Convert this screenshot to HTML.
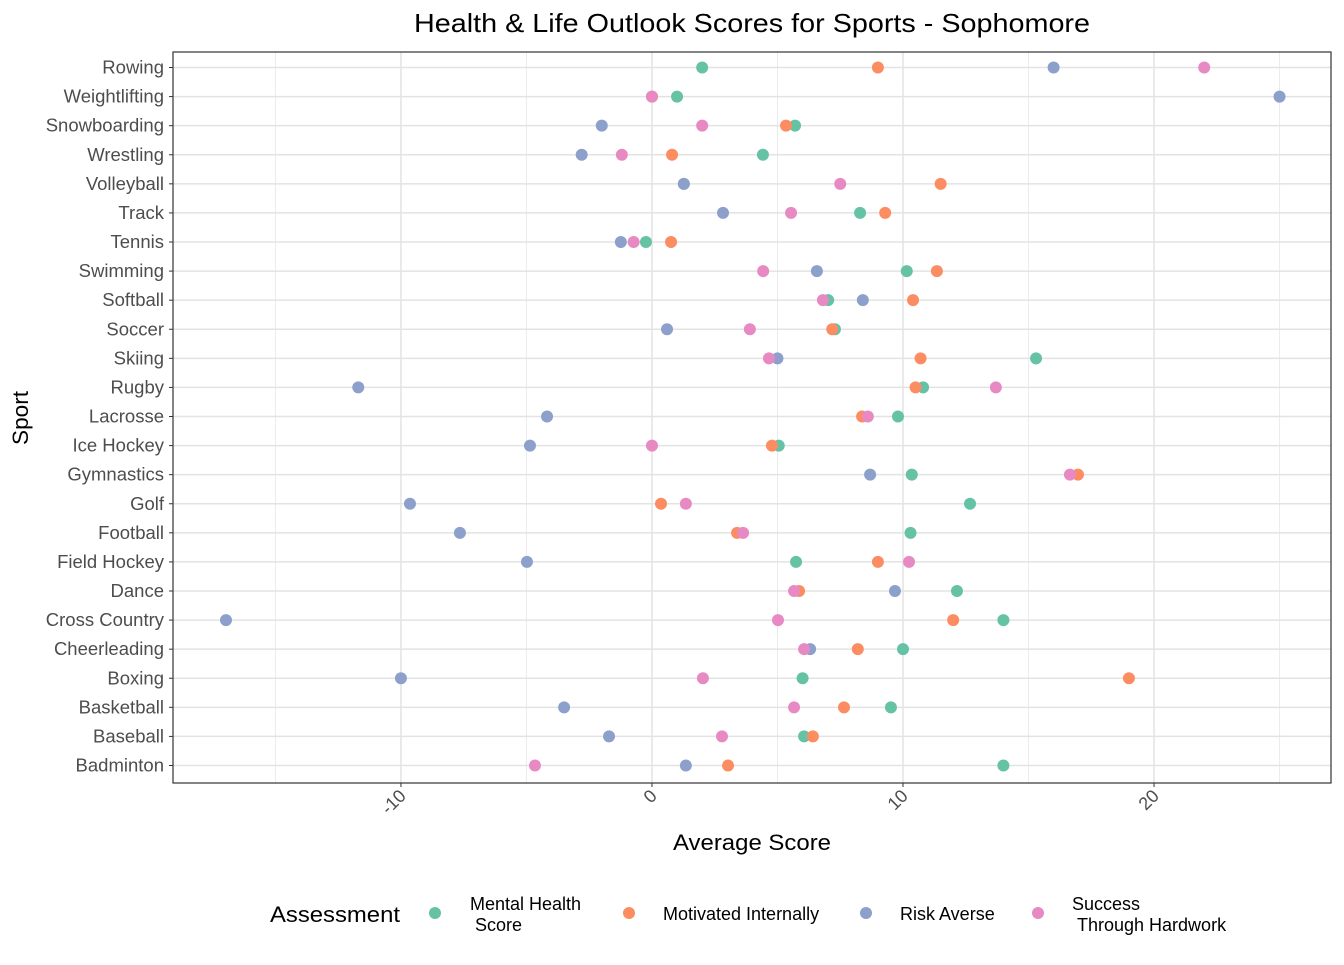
<!DOCTYPE html>
<html><head><meta charset="utf-8"><style>
body{margin:0;background:#fff;font-family:"Liberation Sans",Arial,sans-serif}
</style></head><body>
<svg id="chart" width="1344" height="960" xmlns="http://www.w3.org/2000/svg" font-family="Liberation Sans, Arial, sans-serif">
<text x="752" y="32" text-anchor="middle" font-size="26" fill="#000" textLength="676" lengthAdjust="spacingAndGlyphs">Health &amp; Life Outlook Scores for Sports - Sophomore</text>
<g id="plot"></g>
<text x="752" y="850" text-anchor="middle" font-size="22" textLength="158" lengthAdjust="spacingAndGlyphs">Average Score</text>
<text transform="translate(28,418) rotate(-90)" text-anchor="middle" font-size="22" textLength="54" lengthAdjust="spacingAndGlyphs">Sport</text>
<g>
<text x="270" y="922" font-size="22" textLength="130" lengthAdjust="spacingAndGlyphs">Assessment</text>
<circle cx="435" cy="913" r="6" fill="#66c2a5"/>
<text x="470" y="910" font-size="18">Mental Health</text><text x="475" y="931" font-size="18">Score</text>
<circle cx="629" cy="913" r="6" fill="#fc8d62"/>
<text x="663" y="920" font-size="18">Motivated Internally</text>
<circle cx="866" cy="913" r="6" fill="#8da0cb"/>
<text x="900" y="920" font-size="18">Risk Averse</text>
<circle cx="1038" cy="913" r="6" fill="#e78ac3"/>
<text x="1072" y="910" font-size="18">Success</text><text x="1077" y="931" font-size="18">Through Hardwork</text>
</g>
</svg>
<script>
const sports=["Rowing","Weightlifting","Snowboarding","Wrestling","Volleyball","Track","Tennis","Swimming","Softball","Soccer","Skiing","Rugby","Lacrosse","Ice Hockey","Gymnastics","Golf","Football","Field Hockey","Dance","Cross Country","Cheerleading","Boxing","Basketball","Baseball","Badminton"];
const mentalHealth=[2.0,1.0,5.7,4.42,1.27,8.29,-0.24,10.15,7.02,7.29,15.3,10.8,9.8,5.05,10.35,12.67,10.3,5.74,12.15,14.0,10.0,6.0,9.52,6.06,14.0];
const motivated=[9.0,0,5.34,0.8,11.5,9.29,0.76,11.35,10.4,7.18,10.7,10.5,8.37,4.78,16.97,0.36,3.39,9.0,5.86,12.0,8.2,19.0,7.65,6.41,3.03];
const riskAverse=[16.0,25.0,-2.0,-2.8,1.27,2.83,-1.24,6.57,8.4,0.6,5.0,-11.7,-4.18,-4.86,8.69,-9.64,-7.65,-4.98,9.68,-16.97,6.3,-10.0,-3.5,-1.71,1.35];
const hardwork=[22.0,0,2.0,-1.2,7.5,5.54,-0.73,4.43,6.81,3.9,4.66,13.7,8.6,0,16.65,1.35,3.63,10.24,5.66,5.02,6.06,2.03,5.66,2.79,-4.66];
const xTicks=[-10,0,10,20];
const xMinor=[-15,-5,5,15,25];
const series=[["mental-health",mentalHealth,"#66c2a5"],["motivated-internally",motivated,"#fc8d62"],["risk-averse",riskAverse,"#8da0cb"],["success-hardwork",hardwork,"#e78ac3"]];
const L=173,R=1331,T=52,B=783,xmin=-19.08,xmax=27.05;
const x=v=>L+(v-xmin)/(xmax-xmin)*(R-L);
const step=(765.5-67.5)/24;
const y=i=>67.5+i*step;
const NS="http://www.w3.org/2000/svg";
const g=document.getElementById('plot');
function el(t,a,p){const e=document.createElementNS(NS,t);for(const k in a)e.setAttribute(k,a[k]);(p||g).appendChild(e);return e;}
xMinor.forEach(v=>{const e=el('line',{x1:x(v),x2:x(v),y1:T,y2:B,stroke:'#ebebeb','stroke-width':1});

});
xTicks.forEach(v=>{const e=el('line',{x1:x(v),x2:x(v),y1:T,y2:B,stroke:'#e3e3e3','stroke-width':1.5});

});
sports.forEach((s,i)=>{const e=el('line',{x1:L,x2:R,y1:y(i),y2:y(i),stroke:'#e3e3e3','stroke-width':1.5});


const t=el('text',{x:L-9,y:y(i)+6,'text-anchor':'end','font-size':18.5,fill:'#4d4d4d'});t.textContent=s;


const tk=el('line',{x1:L-4,x2:L,y1:y(i),y2:y(i),stroke:'#333'});

});
xTicks.forEach(v=>{const tk=el('line',{x1:x(v),x2:x(v),y1:B,y2:B+4,stroke:'#333'});


const t=el('text',{transform:`translate(${x(v)+6},${B+14}) rotate(-45)`,'text-anchor':'end','font-size':18,fill:'#4d4d4d'});t.textContent=v;

});
series.forEach(([n,vals,c])=>{vals.forEach((v,i)=>{const p=el('circle',{cx:x(v),cy:y(i),r:6,fill:c});

});});
const fr=el('rect',{x:L,y:T,width:R-L,height:B-T,fill:'none',stroke:'#333','stroke-width':1.2});


</script>
</body></html>
